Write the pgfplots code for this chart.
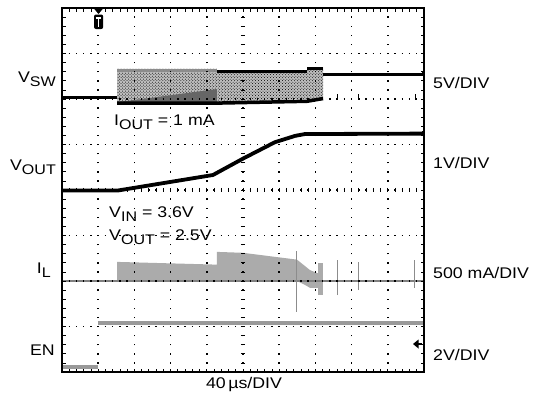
\documentclass[border=0pt]{standalone}
\usepackage{pgfplots}
\pgfplotsset{compat=1.18}
\usetikzlibrary{patterns}
\usepackage{fontspec}
\setmainfont[FakeStretch=1.15]{Liberation Sans}
\newcommand{\sub}[1]{\raisebox{-4.8bp}{\fontsize{14}{14}\selectfont #1}}
\begin{document}
\begin{tikzpicture}
\begin{axis}[
  at={(62bp,-372bp)}, anchor=south west,
  scale only axis, width=362bp, height=364bp,
  xmin=0, xmax=10, ymin=0, ymax=8,
  xtick={0,...,10}, ytick={0,...,8},
  minor x tick num=4, minor y tick num=4,
  xticklabels={}, yticklabels={},
  xtick pos=both, ytick pos=both,
  tick align=inside,
  major tick length=3.5bp, minor tick length=3.5bp,
  tick style={black, line width=0.8bp},
  axis line style={line width=1.6bp},
  grid=major,
  major x grid style={black, line width=1.5bp, dash pattern=on 1.4bp off 7.7bp, dash phase=0.7bp},
  major y grid style={black, line width=1.5bp, dash pattern=on 1.4bp off 5.84bp, dash phase=0.7bp},
  axis on top,
]
% ---- V_SW ----
\addplot[draw=none, fill=black!25] coordinates {(1.52,5.92) (1.52,6.66) (4.28,6.66) (4.28,6.63) (6.77,6.63) (6.77,6.69) (7.21,6.69) (7.21,5.99) (6.77,6.0) (4.28,5.93)} --cycle;
\addplot[draw=none, pattern=crosshatch dots, pattern color=black] coordinates {(1.52,5.92) (1.52,6.66) (4.28,6.66) (4.28,6.63) (6.77,6.63) (6.77,6.69) (7.21,6.69) (7.21,5.99) (6.77,6.0) (4.28,5.93)} --cycle;
\addplot[draw=none, fill=black!60] coordinates {(1.52,5.93) (2.5,6.03) (4.28,6.22) (4.28,5.93)} --cycle;
\addplot[draw=none, fill=black!45] coordinates {(1.52,6.60) (1.52,6.66) (4.28,6.66) (4.28,6.60)} --cycle;
\addplot[black, line width=3bp] coordinates {(0,6.04) (1.52,6.04)};
\addplot[black, line width=3.5bp] coordinates {(1.52,5.91) (4.28,5.91) (6.77,5.95) (7.21,6.01)};
\addplot[black, line width=3bp] coordinates {(4.28,6.61) (6.77,6.61)};
\addplot[black, line width=3bp] coordinates {(6.77,6.67) (7.21,6.67)};
\addplot[black, line width=3bp] coordinates {(7.21,6.53) (10,6.53)};
\addplot[black, line width=0.8bp] coordinates {(7.60,5.98) (7.60,6.10)};
\addplot[black, line width=0.8bp] coordinates {(8.18,5.98) (8.18,6.10)};
\addplot[black, line width=0.8bp] coordinates {(9.75,5.98) (9.75,6.10)};
% ---- V_OUT ----
\addplot[black, line width=3.8bp] coordinates {(0,3.99) (1.55,3.99) (4.17,4.33) (5.0,4.69) (5.88,5.05) (6.44,5.19) (6.71,5.23) (10,5.24)};
% ---- I_L ----
\addplot[draw=none, fill=black!33] coordinates {(1.52,2.0) (1.52,2.42) (4.28,2.36) (4.28,2.64) (5.0,2.62) (6.49,2.47) (6.6,2.40) (6.85,2.24) (7.07,2.17) (7.07,1.85) (6.85,1.85) (6.7,1.92) (6.49,2.0)} --cycle;
\addplot[draw=none, fill=black!33] coordinates {(7.07,1.70) (7.07,2.40) (7.21,2.40) (7.21,1.70)} --cycle;
\addplot[black!50, line width=2.8bp] coordinates {(0,2.0) (10,2.0)};
\addplot[black!45, line width=1bp] coordinates {(6.49,1.32) (6.49,2.66)};
\addplot[black!45, line width=1bp] coordinates {(7.60,1.69) (7.60,2.46)};
\addplot[black!45, line width=1bp] coordinates {(8.18,1.80) (8.18,2.42)};
\addplot[black!45, line width=1bp] coordinates {(9.75,1.85) (9.75,2.46)};
% ---- EN ----
\addplot[black!40, line width=4bp] coordinates {(0,0.11) (0.99,0.11)};
\addplot[black!40, line width=4bp] coordinates {(0.99,1.08) (10,1.08)};
\end{axis}
\begin{scope}[x=1bp, y=-1bp]
\path[use as bounding box] (0,0) rectangle (535,399);
% centre cross ticks
\foreach \k in {1,...,39} \draw[line width=0.8bp] (240.8,{8+\k*9.1}) -- (245.2,{8+\k*9.1});
\foreach \k in {1,...,49} \draw[line width=0.8bp] ({62+\k*7.24},187.8) -- ({62+\k*7.24},192.2);
% trigger marker
\fill (93.5,8) -- (103.5,8) -- (98.5,14) -- cycle;
\fill[rounded corners=2bp] (94,14.5) rectangle (103.2,29);
\draw[white, line width=1.5bp] (95.8,18) -- (101.4,18) (98.6,18) -- (98.6,26.5);
% ground arrow and level markers
\fill (413,344) -- (418.5,339.5) -- (418.5,348.5) -- cycle;
\draw[line width=2bp] (418,344) -- (422,344);
\fill (421.5,72) rectangle (425,76);
\fill (421.5,131) rectangle (425,135);
% labels
\tikzset{lbl/.style={font=\fontsize{15.5}{18}\selectfont, inner sep=0pt}}
\node[lbl, anchor=base east] at (56,82) {V\sub{SW}};
\node[lbl, anchor=base east] at (56,170) {V\sub{OUT}};
\node[lbl, anchor=base east] at (51,273) {I\sub{L}};
\node[lbl, anchor=base east] at (55,355) {EN};
\node[lbl, anchor=base west] at (433,88) {5V/DIV};
\node[lbl, anchor=base west] at (433,168) {1V/DIV};
\node[lbl, anchor=base west] at (433,278) {500 mA/DIV};
\node[lbl, anchor=base west] at (433,360) {2V/DIV};
\node[lbl, anchor=base] at (244,388) {40\,µs/DIV};
\node[lbl, anchor=base west] at (114,125) {I\sub{OUT} = 1 mA};
\node[lbl, anchor=base west] at (109,217) {V\sub{IN} = 3.6V};
\node[lbl, anchor=base west] at (109,240) {V\sub{OUT} = 2.5V};
\end{scope}
\end{tikzpicture}
\end{document}
